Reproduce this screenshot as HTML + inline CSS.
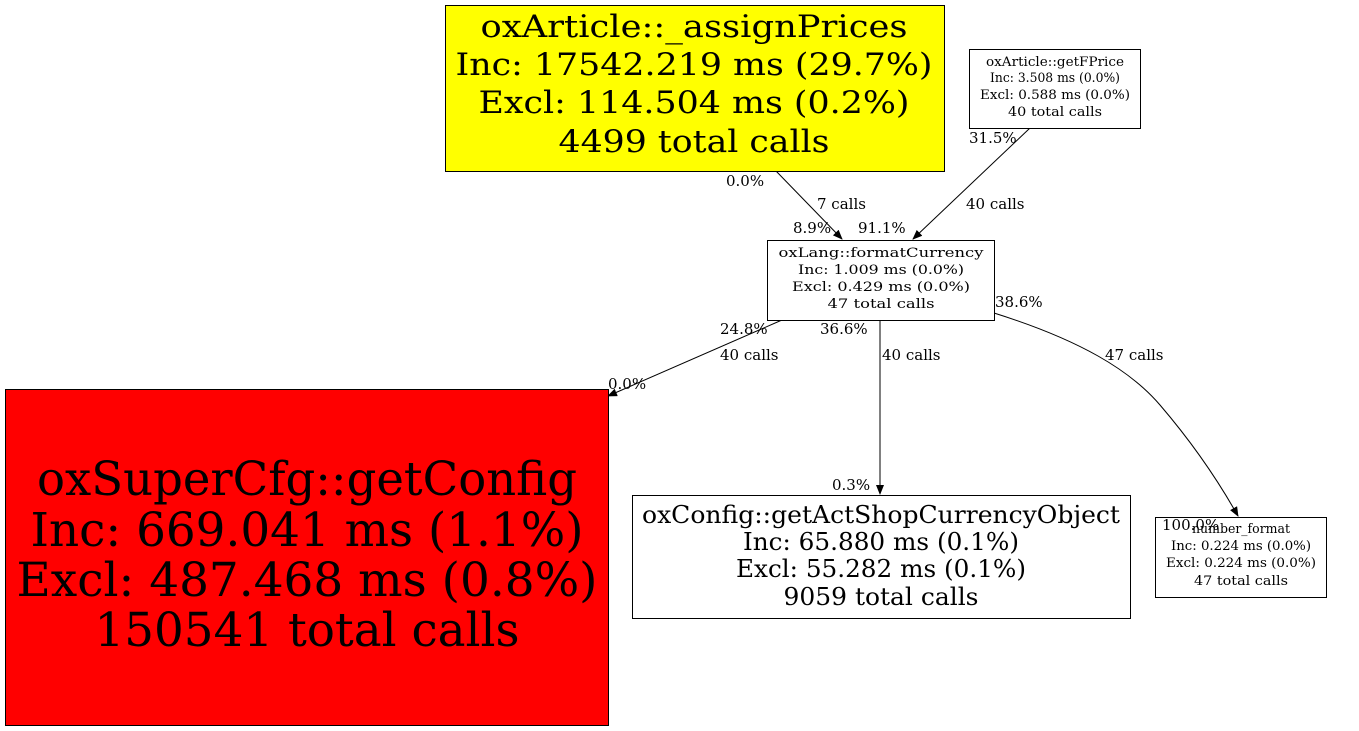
<!DOCTYPE html>
<html><head><meta charset="utf-8"><style>
html,body{margin:0;padding:0;background:#fff;}
svg{display:block;font-family:"DejaVu Serif","Liberation Serif",serif;}
</style></head><body>
<svg width="1359" height="731" viewBox="0 0 1359 731" xmlns="http://www.w3.org/2000/svg">
<defs><marker id="a" markerWidth="10" markerHeight="8" refX="9" refY="4" orient="auto" markerUnits="userSpaceOnUse"><path d="M0,0 L10,4 L0,8 Z" fill="#000"/></marker></defs>
<g fill="none" stroke="#000" stroke-width="1">
<path d="M776,171 L842,239" marker-end="url(#a)"/>
<path d="M1030,128 L913,239" marker-end="url(#a)"/>
<path d="M782,320 L608,396" marker-end="url(#a)"/>
<path d="M880,320 L880,494" marker-end="url(#a)"/>
<path d="M994,313 C1080,340 1130,370 1160,405 C1190,440 1215,475 1238,516" marker-end="url(#a)"/>
</g>
<rect x="445.5" y="5.5" width="499" height="166" fill="#ff0" stroke="#000"/>
<g font-size="31" text-anchor="middle"><text x="694" y="37" textLength="427" lengthAdjust="spacingAndGlyphs">oxArticle::_assignPrices</text><text x="694" y="75" textLength="477" lengthAdjust="spacingAndGlyphs">Inc: 17542.219 ms (29.7%)</text><text x="694" y="113" textLength="431" lengthAdjust="spacingAndGlyphs">Excl: 114.504 ms (0.2%)</text><text x="694" y="152" textLength="271" lengthAdjust="spacingAndGlyphs">4499 total calls</text></g>
<rect x="969.5" y="49.5" width="171" height="79" fill="#fff" stroke="#000"/>
<g font-size="13" text-anchor="middle"><text x="1055" y="66" textLength="138" lengthAdjust="spacingAndGlyphs">oxArticle::getFPrice</text><text x="1055" y="82" textLength="130" lengthAdjust="spacingAndGlyphs">Inc: 3.508 ms (0.0%)</text><text x="1055" y="99" textLength="150" lengthAdjust="spacingAndGlyphs">Excl: 0.588 ms (0.0%)</text><text x="1055" y="116" textLength="94" lengthAdjust="spacingAndGlyphs">40 total calls</text></g>
<rect x="767.5" y="240.5" width="227" height="80" fill="#fff" stroke="#000"/>
<g font-size="13" text-anchor="middle"><text x="881" y="257" textLength="205" lengthAdjust="spacingAndGlyphs">oxLang::formatCurrency</text><text x="881" y="274" textLength="166" lengthAdjust="spacingAndGlyphs">Inc: 1.009 ms (0.0%)</text><text x="881" y="291" textLength="178" lengthAdjust="spacingAndGlyphs">Excl: 0.429 ms (0.0%)</text><text x="881" y="308" textLength="107" lengthAdjust="spacingAndGlyphs">47 total calls</text></g>
<rect x="5.5" y="389.5" width="603" height="336" fill="#f00" stroke="#000"/>
<g font-size="47" text-anchor="middle"><text x="307" y="495" textLength="540" lengthAdjust="spacingAndGlyphs">oxSuperCfg::getConfig</text><text x="307" y="546" textLength="553" lengthAdjust="spacingAndGlyphs">Inc: 669.041 ms (1.1%)</text><text x="307" y="596" textLength="581" lengthAdjust="spacingAndGlyphs">Excl: 487.468 ms (0.8%)</text><text x="307" y="646" textLength="425" lengthAdjust="spacingAndGlyphs">150541 total calls</text></g>
<rect x="632.5" y="495.5" width="498" height="123" fill="#fff" stroke="#000"/>
<g font-size="24" text-anchor="middle"><text x="881" y="523" textLength="478" lengthAdjust="spacingAndGlyphs">oxConfig::getActShopCurrencyObject</text><text x="881" y="550" textLength="276" lengthAdjust="spacingAndGlyphs">Inc: 65.880 ms (0.1%)</text><text x="881" y="577" textLength="290" lengthAdjust="spacingAndGlyphs">Excl: 55.282 ms (0.1%)</text><text x="881" y="605" textLength="195" lengthAdjust="spacingAndGlyphs">9059 total calls</text></g>
<rect x="1155.5" y="517.5" width="171" height="80" fill="#fff" stroke="#000"/>
<g font-size="13" text-anchor="middle"><text x="1241" y="533" textLength="98" lengthAdjust="spacingAndGlyphs">number_format</text><text x="1241" y="550" textLength="140" lengthAdjust="spacingAndGlyphs">Inc: 0.224 ms (0.0%)</text><text x="1241" y="567" textLength="150" lengthAdjust="spacingAndGlyphs">Excl: 0.224 ms (0.0%)</text><text x="1241" y="585" textLength="94" lengthAdjust="spacingAndGlyphs">47 total calls</text></g>
<g font-size="15">
<text x="726" y="186">0.0%</text><text x="817" y="209">7 calls</text><text x="793" y="233">8.9%</text>
<text x="969" y="143">31.5%</text><text x="966" y="209">40 calls</text><text x="858" y="233">91.1%</text>
<text x="720" y="334">24.8%</text><text x="720" y="360">40 calls</text><text x="608" y="389">0.0%</text>
<text x="820" y="334">36.6%</text><text x="882" y="360">40 calls</text><text x="832" y="490">0.3%</text>
<text x="995" y="307">38.6%</text><text x="1105" y="360">47 calls</text><text x="1162" y="530">100.0%</text>
</g>
</svg>
</body></html>
